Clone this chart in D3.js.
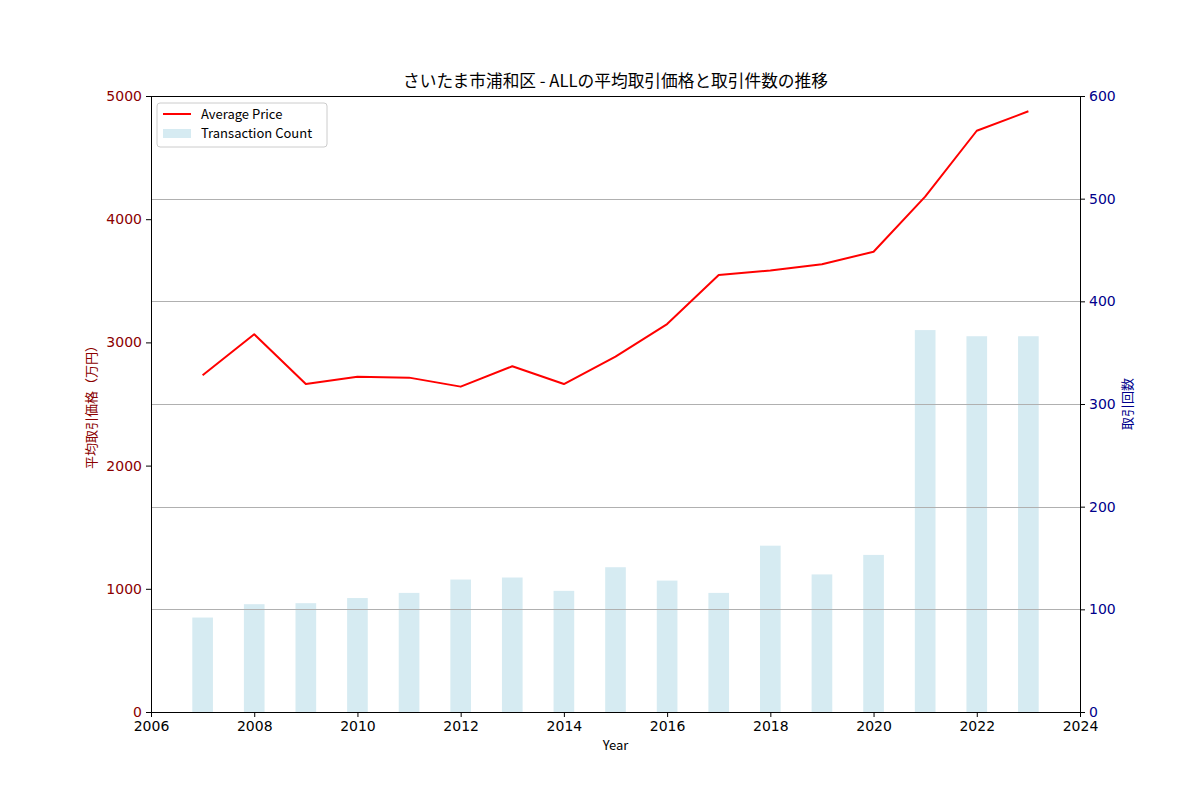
<!DOCTYPE html>
<html>
<head>
<meta charset="utf-8">
<script src="https://cdn.jsdelivr.net/npm/d3@7"></script>
<style>
  body { margin: 0; background: #fff; }
  svg { display: block; font-family: "Noto Sans CJK JP", "DejaVu Sans", sans-serif; }
</style>
</head>
<body>
<svg id="chart" width="1200" height="800"></svg>
<script>
// --- Données
const years = [2007, 2008, 2009, 2010, 2011, 2012, 2013, 2014, 2015, 2016, 2017, 2018, 2019, 2020, 2021, 2022, 2023];
const avgPrice = [2733, 3066, 2662, 2722, 2714, 2641, 2806, 2662, 2884, 3149, 3547, 3584, 3634, 3736, 4183, 4718, 4876];
const txCount = [92, 105, 106, 111, 116, 129, 131, 118, 141, 128, 116, 162, 134, 153, 372, 366, 366];
const xTicks = [2006, 2008, 2010, 2012, 2014, 2016, 2018, 2020, 2022, 2024];
const priceTicks = [0, 1000, 2000, 3000, 4000, 5000];
const countTicks = [0, 100, 200, 300, 400, 500, 600];

const titleText = "さいたま市浦和区 - ALLの平均取引価格と取引件数の推移";

const svg = d3.select("#chart");
const margin = { top: 96, right: 120, bottom: 88, left: 151 };
const W = 1200, H = 800;
const x0 = margin.left, x1 = W - margin.right;
const y0 = H - margin.bottom, y1 = margin.top;

const x = d3.scaleLinear().domain([2006, 2024]).range([x0, x1]);
const yL = d3.scaleLinear().domain([0, 5000]).range([y0, y1]);
const yR = d3.scaleLinear().domain([0, 600]).range([y0, y1]);

const leftColor = "#8b0000";
const rightColor = "#00008b";

// --- Barres (axe droit)
const barW = x(2006.4) - x(2006);
svg.append("g")
    .selectAll("rect")
    .data(years)
    .join("rect")
    .attr("x", (d) => x(d) - barW / 2)
    .attr("width", barW)
    .attr("y", (d, i) => yR(txCount[i]))
    .attr("height", (d, i) => y0 - yR(txCount[i]))
    .attr("fill", "#add8e6")
    .attr("fill-opacity", 0.5);

// --- Grille (ticks de l'axe droit)
svg.append("g")
    .selectAll("line")
    .data(countTicks.slice(1, -1))
    .join("line")
    .attr("x1", x0)
    .attr("x2", x1)
    .attr("y1", (d) => Math.round(yR(d)) + 0.5)
    .attr("y2", (d) => Math.round(yR(d)) + 0.5)
    .attr("stroke", "#b0b0b0")
    .attr("stroke-width", 1);

// --- Courbe du prix moyen
const line = d3.line()
    .x((d) => x(d))
    .y((d, i) => yL(avgPrice[i]));

svg.append("path")
    .datum(years)
    .attr("d", line)
    .attr("fill", "none")
    .attr("stroke", "red")
    .attr("stroke-width", 2)
    .attr("stroke-linejoin", "round");

// --- Axes
function styleAxis(g, color) {
    g.select(".domain").attr("stroke", "#000").attr("stroke-width", 1);
    g.selectAll(".tick line").attr("stroke", "#000").attr("stroke-width", 1);
    g.selectAll(".tick text")
        .attr("fill", color)
        .style("font-size", "14px")
        .style("font-family", "'DejaVu Sans', sans-serif");
}

const gx = svg.append("g")
    .attr("transform", `translate(0,${y0})`)
    .call(d3.axisBottom(x).tickValues(xTicks).tickFormat(d3.format("d")).tickSize(5).tickPadding(4).tickSizeOuter(0));
styleAxis(gx, "#000");

const gl = svg.append("g")
    .attr("transform", `translate(${x0},0)`)
    .call(d3.axisLeft(yL).tickValues(priceTicks).tickFormat(d3.format("d")).tickSize(5).tickPadding(4).tickSizeOuter(0));
styleAxis(gl, leftColor);

const gr = svg.append("g")
    .attr("transform", `translate(${x1},0)`)
    .call(d3.axisRight(yR).tickValues(countTicks).tickFormat(d3.format("d")).tickSize(5).tickPadding(4).tickSizeOuter(0));
styleAxis(gr, rightColor);

// cadre du haut
svg.append("line")
    .attr("x1", x0).attr("x2", x1)
    .attr("y1", y1 + 0.5).attr("y2", y1 + 0.5)
    .attr("stroke", "#000");

// --- Titres
svg.append("text")
    .attr("x", (x0 + x1) / 2)
    .attr("y", 87)
    .attr("text-anchor", "middle")
    .style("font-size", "16.7px")
    .text(titleText);

svg.append("text")
    .attr("x", (x0 + x1) / 2)
    .attr("y", 750)
    .attr("text-anchor", "middle")
    .style("font-size", "13px")
    .text("Year");

svg.append("text")
    .attr("transform", `translate(96,${(y0 + y1) / 2}) rotate(-90)`)
    .attr("text-anchor", "middle")
    .attr("fill", leftColor)
    .style("font-size", "13px")
    .text("平均取引価格（万円）");

svg.append("text")
    .attr("transform", `translate(1132,${(y0 + y1) / 2}) rotate(-90)`)
    .attr("text-anchor", "middle")
    .attr("fill", rightColor)
    .style("font-size", "13px")
    .text("取引回数");

// --- Légende
const legend = svg.append("g").attr("transform", "translate(157,103)");
legend.append("rect")
    .attr("width", 170)
    .attr("height", 44)
    .attr("rx", 3)
    .attr("fill", "#fff")
    .attr("fill-opacity", 0.8)
    .attr("stroke", "#ccc");
legend.append("line")
    .attr("x1", 6).attr("x2", 34)
    .attr("y1", 11).attr("y2", 11)
    .attr("stroke", "red")
    .attr("stroke-width", 2);
legend.append("rect")
    .attr("x", 6).attr("y", 26)
    .attr("width", 28).attr("height", 9)
    .attr("fill", "#add8e6")
    .attr("fill-opacity", 0.5);
legend.append("text")
    .attr("x", 44).attr("y", 16)
    .style("font-size", "13px")
    .text("Average Price");
legend.append("text")
    .attr("x", 44).attr("y", 35)
    .style("font-size", "13px")
    .text("Transaction Count");
</script>
</body>
</html>
